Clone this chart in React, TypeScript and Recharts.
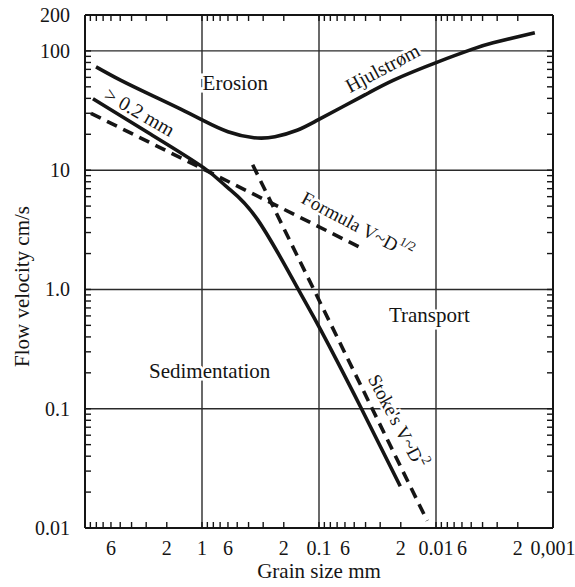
import React from 'react'
import { LineChart, Line, XAxis, YAxis, ReferenceLine, ReferenceDot, Label } from 'recharts'

// Hjulstrøm erosion curve (grain size mm -> flow velocity cm/s)
const erosionSize = [8.05, 4.93, 2.74, 1.52, 0.97, 0.6, 0.36, 0.238, 0.154, 0.102, 0.044, 0.023, 0.0096, 0.0048, 0.00325, 0.00143]
const erosionVel = [73.5, 56.6, 42.8, 32.5, 26, 21, 18.7, 19.05, 21.6, 26.4, 41, 57, 81, 104, 117, 142]

// sedimentation limit, > 0.2 mm
const settleSize = [8.55, 2.74, 0.97, 0.6, 0.335, 0.152, 0.097, 0.044, 0.0202]
const settleVel = [39.7, 20, 10.5, 7.1, 3.85, 1.02, 0.46, 0.103, 0.0224]

// formula V ~ D^1/2 (dashed)
const formulaSize = [8.9, 0.97, 0.044]
const formulaVel = [30, 10.2, 2.24]

// Stoke's V ~ D^2 (dashed)
const stokesSize = [0.369, 0.0119]
const stokesVel = [11.1, 0.0115]

// axis labels
const xLabelValues = [6, 2, 1, 0.6, 0.2, 0.1, 0.06, 0.02, 0.01, 0.006, 0.002, 0.001]
const xLabelText = ['6', '2', '1', '6', '2', '0.1', '6', '2', '0.01', '6', '2', '0,001']
const yLabelValues = [200, 100, 10, 1, 0.1, 0.01]
const yLabelText = ['200', '100', '10', '1.0', '0.1', '0.01']
const xGrid = [1, 0.1, 0.01]
const yGrid = [100, 10, 1, 0.1]

const toRows = (xs: number[], ys: number[]) => xs.map((d, i) => ({ d, v: ys[i] }))

const minors = (decades: number[]) =>
  decades.flatMap(k => [9, 8, 7, 6, 5, 4, 3, 2].map(m => m * k))

const xTicks = minors([1, 0.1, 0.01, 0.001]).concat([1, 0.1, 0.01, 0.001])
const yTicks = minors([10, 1, 0.1, 0.01]).concat(yLabelValues)

const ink = '#151515'
const serif = 'Liberation Serif, Times New Roman, serif'

const findLabel = (v: number, vals: number[], txt: string[]) => {
  const i = vals.findIndex(l => Math.abs(Math.log10(l) - Math.log10(v)) < 1e-6)
  return i >= 0 ? txt[i] : null
}

const XTick = (p: any) => {
  const { x, y, payload, side } = p
  const lab = side === 'bottom' ? findLabel(payload.value, xLabelValues, xLabelText) : null
  const dir = side === 'top' ? 1 : -1
  return (
    <g>
      <line x1={x} x2={x} y1={y} y2={y + dir * 6} stroke={ink} strokeWidth={1.4} />
      {lab && (
        <text x={x} y={y + 20} textAnchor="middle" dominantBaseline="central" fontSize={20} fontFamily={serif} fill={ink}>
          {lab}
        </text>
      )}
    </g>
  )
}

const YTick = (p: any) => {
  const { x, y, payload, side } = p
  const lab = side === 'left' ? findLabel(payload.value, yLabelValues, yLabelText) : null
  const dir = side === 'left' ? 1 : -1
  return (
    <g>
      <line x1={x} x2={x + dir * 6} y1={y} y2={y} stroke={ink} strokeWidth={1.4} />
      {lab && (
        <text x={x - 15} y={y} textAnchor="end" dominantBaseline="central" fontSize={20} fontFamily={serif} fill={ink}>
          {lab}
        </text>
      )}
    </g>
  )
}

const note = (content: React.ReactNode, angle: number, size = 20) => (p: any) => (
  <text
    x={p.cx}
    y={p.cy}
    transform={`rotate(${angle} ${p.cx} ${p.cy})`}
    textAnchor="middle"
    dominantBaseline="central"
    fontSize={size}
    fontFamily={serif}
    fill={ink}
    stroke="#fff"
    strokeWidth={5}
    paintOrder="stroke"
  >
    {content}
  </text>
)

const frame = { stroke: ink, strokeWidth: 2 }

export default function App() {
  return (
    <div style={{ position: 'absolute', left: 0, top: 0, background: '#fff' }}>
      <LineChart width={575} height={587} margin={{ top: 13, right: 20, bottom: 14, left: 25 }}>
        <XAxis
          dataKey="d" type="number" scale="log" domain={[0.001, 10]} reversed allowDataOverflow
          ticks={xTicks} interval={0} tickSize={0} tickMargin={0} height={45}
          tick={<XTick side="bottom" />} axisLine={frame} tickLine={false}
        >
          <Label
            content={(p: any) => (
              <text x={p.viewBox.x + p.viewBox.width / 2} y={p.viewBox.y + 43} textAnchor="middle"
                dominantBaseline="central" fontSize={21} fontFamily={serif} fill={ink}>
                Grain size mm
              </text>
            )}
          />
        </XAxis>
        <XAxis
          xAxisId="top" orientation="top" dataKey="d" type="number" scale="log" domain={[0.001, 10]} reversed allowDataOverflow
          ticks={xTicks} interval={0} tickSize={0} tickMargin={0} height={2}
          tick={<XTick side="top" />} axisLine={frame} tickLine={false}
        />
        <YAxis
          dataKey="v" type="number" scale="log" domain={[0.01, 200]} allowDataOverflow
          ticks={yTicks} interval={0} tickSize={0} tickMargin={0} width={60}
          tick={<YTick side="left" />} axisLine={frame} tickLine={false}
        >
          <Label
            content={(p: any) => {
              const cx = p.viewBox.x - 3
              const cy = p.viewBox.y + p.viewBox.height / 2 + 15
              return (
                <text x={cx} y={cy} transform={`rotate(-90 ${cx} ${cy})`} textAnchor="middle"
                  dominantBaseline="central" fontSize={21} fontFamily={serif} fill={ink}>
                  Flow velocity cm/s
                </text>
              )
            }}
          />
        </YAxis>
        <YAxis
          yAxisId="right" orientation="right" type="number" scale="log" domain={[0.01, 200]} allowDataOverflow
          ticks={yTicks} interval={0} tickSize={0} tickMargin={0} width={2}
          tick={<YTick side="right" />} axisLine={frame} tickLine={false}
        />

        {xGrid.map(g => (
          <ReferenceLine key={'x' + g} x={g} stroke="#2a2a2a" strokeWidth={1.4} />
        ))}
        {yGrid.map(g => (
          <ReferenceLine key={'y' + g} y={g} stroke="#2a2a2a" strokeWidth={1.4} />
        ))}

        <ReferenceDot x={0.52} y={54} r={0} shape={note('Erosion', 0, 21)} />
        <ReferenceDot x={0.0287} y={72} r={0} shape={note('Hjulstrøm', -28)} />
        <ReferenceDot x={3.4} y={30.8} r={0} shape={note('> 0.2 mm', 30)} />
        <ReferenceDot
          x={0.047} y={3.44} r={0}
          shape={note(
            <>
              Formula V~D<tspan dy={-8} fontSize={13}>1/2</tspan>
            </>,
            28,
            19
          )}
        />
        <ReferenceDot
          x={0.0214} y={0.0785} r={0}
          shape={note(
            <>
              Stoke's V~D<tspan dy={-8} fontSize={14}>2</tspan>
            </>,
            62,
            19
          )}
        />
        <ReferenceDot x={0.0114} y={0.605} r={0} shape={note('Transport', 0, 21)} />
        <ReferenceDot x={0.86} y={0.206} r={0} shape={note('Sedimentation', 0, 21)} />

        <Line data={toRows(erosionSize, erosionVel)} dataKey="v" type="natural" stroke={ink} strokeWidth={3.6} dot={false} activeDot={false} isAnimationActive={false} />
        <Line data={toRows(settleSize, settleVel)} dataKey="v" type="natural" stroke={ink} strokeWidth={3.6} dot={false} activeDot={false} isAnimationActive={false} />
        <Line data={toRows(formulaSize, formulaVel)} dataKey="v" type="linear" stroke={ink} strokeWidth={3.6} strokeDasharray="11 7" dot={false} activeDot={false} isAnimationActive={false} />
        <Line data={toRows(stokesSize, stokesVel)} dataKey="v" type="linear" stroke={ink} strokeWidth={3.6} strokeDasharray="11 7" dot={false} activeDot={false} isAnimationActive={false} />
      </LineChart>
    </div>
  )
}
